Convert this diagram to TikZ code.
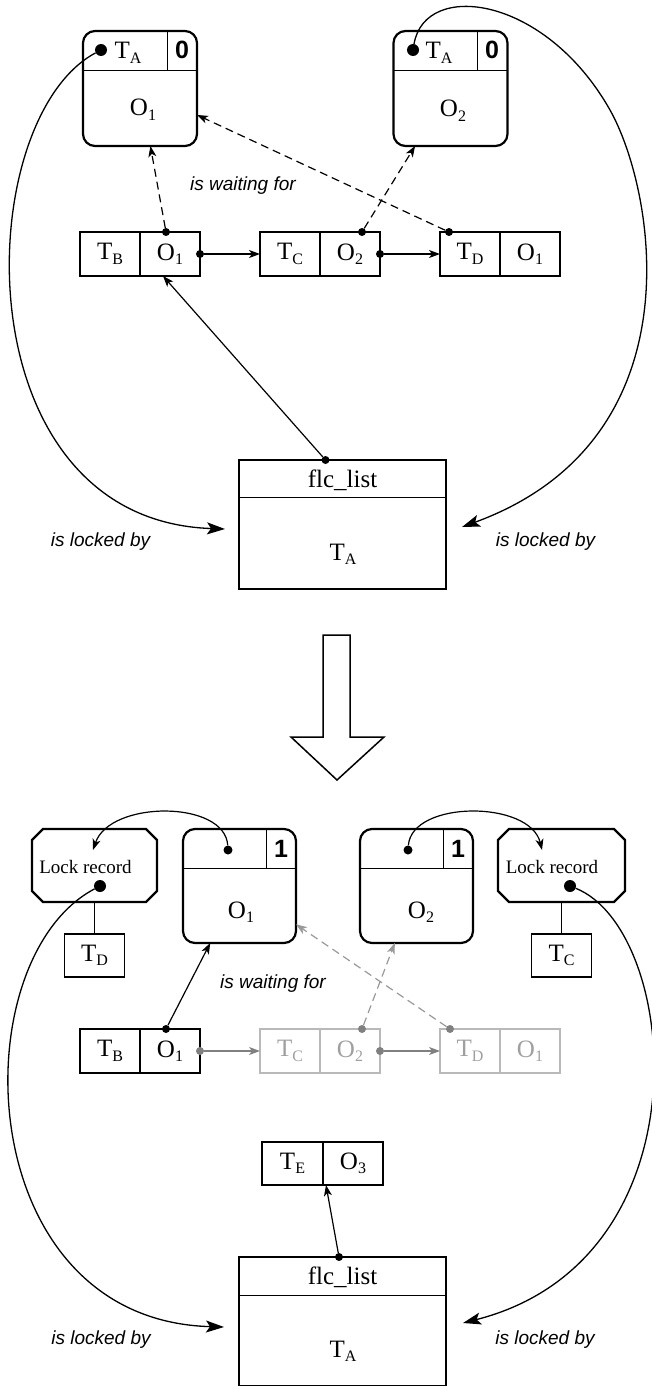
\documentclass[tikz,border=0pt]{standalone}
\usepackage{fontspec}
\setmainfont{Liberation Serif}
\setsansfont{Liberation Sans}
\usetikzlibrary{arrows.meta,positioning}
\newcommand{\idx}[2]{#1\raisebox{-4.5pt}{\fontsize{16}{16}\selectfont #2}}
\newcommand{\lockframe}[1]{\draw[line width=2.2pt] ([xshift=11pt]#1.north west) -- ([xshift=-11pt]#1.north east) -- ([yshift=-11pt]#1.north east) -- ([yshift=11pt]#1.south east) -- ([xshift=-11pt]#1.south east) -- ([xshift=11pt]#1.south west) -- ([yshift=11pt]#1.south west) -- ([yshift=-11pt]#1.north west) -- cycle;}
\tikzset{
	objbox/.style={draw, line width=2.2pt, rounded corners=12pt, outer sep=0pt, minimum width=114pt, minimum height=115pt},
	cell/.style={draw, line width=1.3pt, outer sep=0pt, inner sep=0pt, minimum width=60pt, minimum height=44pt, font=\fontsize{25}{30}\selectfont},
	graycell/.style={cell, draw=gray!55, text=gray!75},
	lbl/.style={inner sep=0pt, font=\fontsize{25}{30}\selectfont},
	cnt/.style={inner sep=0pt, font=\sffamily\bfseries\fontsize{25}{30}\selectfont},
	note/.style={inner sep=0pt, font=\sffamily\itshape\fontsize{19}{23}\selectfont},
	lockrec/.style={inner sep=0pt, outer sep=0pt, minimum width=125pt, minimum height=73pt},
	rectxt/.style={inner sep=0pt, font=\fontsize{19}{23}\selectfont},
	bigdot/.style={circle, fill, inner sep=0pt, minimum size=12pt},
	smalldot/.style={circle, fill, inner sep=0pt, minimum size=8pt},
	link/.style={line width=1.2pt, -{Stealth[length=11pt, width=8pt, inset=3pt]}},
	wait/.style={link, dash pattern=on 8pt off 5pt},
	lockedby/.style={line width=1.3pt, -{Stealth[length=18pt, width=12pt, inset=4pt]}},
	flcbox/.style={draw, line width=2.2pt, outer sep=0pt, minimum width=207pt, minimum height=129pt},
	sep/.style={line width=1pt}
}
\begin{document}
\begin{tikzpicture}[x=1pt, y=-1pt]
	\useasboundingbox (0,0) rectangle (651,1386);

	\node[objbox] (objA) at (140,88.5) {};
	\draw[sep] ([yshift=-40pt]objA.north west) -- ([yshift=-40pt]objA.north east);
	\draw[sep] ([xshift=-30pt]objA.north east) -- ([xshift=-30pt,yshift=-40pt]objA.north east);
	\node[lbl, anchor=base] (ownA) at (128,59) {\idx{T}{A}};
	\node[cnt, anchor=base] (cntA) at (182,59) {0};
	\node[lbl, anchor=base] (nameA) at (143,116) {\idx{O}{1}};
	\node[bigdot] (dotA) at (101,50) {};

	\node[objbox] (objB) at (450.5,88.5) {};
	\draw[sep] ([yshift=-40pt]objB.north west) -- ([yshift=-40pt]objB.north east);
	\draw[sep] ([xshift=-30pt]objB.north east) -- ([xshift=-30pt,yshift=-40pt]objB.north east);
	\node[lbl, anchor=base] (ownB) at (439,59) {\idx{T}{A}};
	\node[cnt, anchor=base] (cntB) at (492,59) {0};
	\node[lbl, anchor=base] (nameB) at (453,117) {\idx{O}{2}};
	\node[bigdot] (dotB) at (413,50) {};

	\node[cell] (thB) at (110,254) {\idx{T}{B}};
	\node[cell, right=0pt of thB] (waitB) {\idx{O}{1}};
	\node[cell, right=60pt of waitB] (thC) {\idx{T}{C}};
	\node[cell, right=0pt of thC] (waitC) {\idx{O}{2}};
	\node[cell, right=60pt of waitC] (thD) {\idx{T}{D}};
	\node[cell, right=0pt of thD] (waitD) {\idx{O}{1}};
	\node[smalldot] (ptB) at ([xshift=-4pt]waitB.north) {};
	\node[smalldot] (nxB) at (waitB.east) {};
	\node[smalldot] (ptC) at ([xshift=12pt]waitC.north) {};
	\node[smalldot] (nxC) at (waitC.east) {};
	\node[smalldot] (ptD) at ([xshift=-21pt]thD.north) {};
	\draw[link] (nxB) -- (thC);
	\draw[link] (nxC) -- (thD);
	\draw[wait] (ptB) -- (objA);
	\draw[wait] (ptC) -- (objB);
	\draw[wait] (ptD) -- (objA);
	\node[note] (waitnoteA) at (243,185.5) {is waiting for};

	\node[flcbox] (flcA) at (342.5,524.5) {};
	\draw[sep] ([yshift=-37pt]flcA.north west) -- ([yshift=-37pt]flcA.north east);
	\node[lbl, anchor=base] (flcnameA) at (342.5,487) {flc\_list};
	\node[lbl, anchor=base] (holderA) at (343,560) {\idx{T}{A}};
	\node[smalldot] (ptA) at ([xshift=-17pt]flcA.north) {};
	\draw[link] (ptA) -- ([xshift=-7pt]waitB.south);

	\draw[lockedby] (dotA) .. controls (-30,120) and (-40,520) .. ([xshift=-14pt,yshift=-4.5pt]flcA.west);
	\draw[lockedby] (dotB) .. controls (425,-20) and (545,-5) .. (610,110) .. controls (655,190) and (700,440) .. ([xshift=16pt,yshift=-2.5pt]flcA.east);
	\node[note] (lockednoteA) at (100.5,542) {is locked by};
	\node[note] (lockednoteB) at (545.5,542) {is locked by};

	\draw[line width=1.5pt] (323,635) -- (350,635) -- (350,737) -- (384,737) -- (337,780) -- (291,737) -- (323,737) -- cycle;

	\node[lockrec] (recD) at (94.5,865.5) {};
	\lockframe{recD}
	\node[rectxt, anchor=base] (recDtxt) at (85.5,873) {Lock record};
	\node[bigdot] (recDdot) at (100,886) {};
	\node[cell, minimum height=43pt] (ownD) at (94.5,955.5) {\idx{T}{D}};
	\draw[sep] (recD) -- (ownD);

	\node[lockrec, minimum width=127pt] (recC) at (561.5,865.5) {};
	\lockframe{recC}
	\node[rectxt, anchor=base] (recCtxt) at (552,873) {Lock record};
	\node[bigdot] (recCdot) at (570,886) {};
	\node[cell, minimum height=43pt] (ownC) at (561.5,955.5) {\idx{T}{C}};
	\draw[sep] (recC) -- (ownC);

	\node[objbox, minimum width=113pt, minimum height=114pt] (objC) at (239.5,886) {};
	\draw[sep] ([yshift=-39pt]objC.north west) -- ([yshift=-39pt]objC.north east);
	\draw[sep] ([xshift=-30pt]objC.north east) -- ([xshift=-30pt,yshift=-39pt]objC.north east);
	\node[cnt, anchor=base] (cntC) at (281,857) {1};
	\node[lbl, anchor=base] (nameC) at (241,918) {\idx{O}{1}};
	\node[smalldot, minimum size=9pt] (dotC) at (228,850) {};
	\draw[link] (dotC) .. controls (225,800) and (110,800) .. ([xshift=-1.5pt,yshift=15.5pt]recD.center);

	\node[objbox, minimum width=113pt, minimum height=114pt] (objD) at (416.5,886) {};
	\draw[sep] ([yshift=-39pt]objD.north west) -- ([yshift=-39pt]objD.north east);
	\draw[sep] ([xshift=-30pt]objD.north east) -- ([xshift=-30pt,yshift=-39pt]objD.north east);
	\node[cnt, anchor=base] (cntD) at (458,857) {1};
	\node[lbl, anchor=base] (nameD) at (421,918) {\idx{O}{2}};
	\node[smalldot, minimum size=9pt] (dotD) at (408,850) {};
	\draw[link] (dotD) .. controls (412,800) and (530,800) .. ([xshift=-19.5pt,yshift=15.5pt]recC.center);

	\node[cell] (thB2) at (110,1051) {\idx{T}{B}};
	\node[cell, right=0pt of thB2] (waitB2) {\idx{O}{1}};
	\node[graycell, right=60pt of waitB2] (thC2) {\idx{T}{C}};
	\node[graycell, right=0pt of thC2] (waitC2) {\idx{O}{2}};
	\node[graycell, right=60pt of waitC2] (thD2) {\idx{T}{D}};
	\node[graycell, right=0pt of thD2] (waitD2) {\idx{O}{1}};
	\node[smalldot] (ptB2) at ([xshift=-4pt]waitB2.north) {};
	\node[smalldot, gray] (nxB2) at (waitB2.east) {};
	\node[smalldot, gray] (ptC2) at ([xshift=12pt]waitC2.north) {};
	\node[smalldot, gray] (nxC2) at (waitC2.east) {};
	\node[smalldot, gray] (ptD2) at ([xshift=-20pt]thD2.north) {};
	\draw[link] (ptB2) -- (objC);
	\draw[link, gray] (nxB2) -- (thC2);
	\draw[link, gray] (nxC2) -- (thD2);
	\draw[wait, gray!80] (ptC2) -- (objD);
	\draw[wait, gray!80] (ptD2) -- (objC);
	\node[note] (waitnoteB) at (273,984) {is waiting for};

	\node[cell, minimum width=61pt, minimum height=43pt] (thE) at (292.5,1163.5) {\idx{T}{E}};
	\node[cell, minimum height=43pt, right=0pt of thE] (waitE) {\idx{O}{3}};

	\node[flcbox] (flcB) at (342.5,1321.5) {};
	\draw[sep] ([yshift=-38pt]flcB.north west) -- ([yshift=-38pt]flcB.north east);
	\node[lbl, anchor=base] (flcnameB) at (342.5,1284) {flc\_list};
	\node[lbl, anchor=base] (holderB) at (343,1357) {\idx{T}{A}};
	\node[smalldot] (ptE) at ([xshift=-3.5pt]flcB.north) {};
	\draw[link] (ptE) -- ([xshift=3pt]thE.south east);

	\draw[lockedby] (recDdot) .. controls (-40,960) and (-30,1320) .. ([xshift=-15pt,yshift=-5.5pt]flcB.west);
	\draw[lockedby] (recCdot) .. controls (680,930) and (710,1260) .. ([xshift=17pt,yshift=-1.5pt]flcB.east);
	\node[note] (lockednoteC) at (101,1340) {is locked by};
	\node[note] (lockednoteD) at (545,1340) {is locked by};
\end{tikzpicture}
\end{document}
